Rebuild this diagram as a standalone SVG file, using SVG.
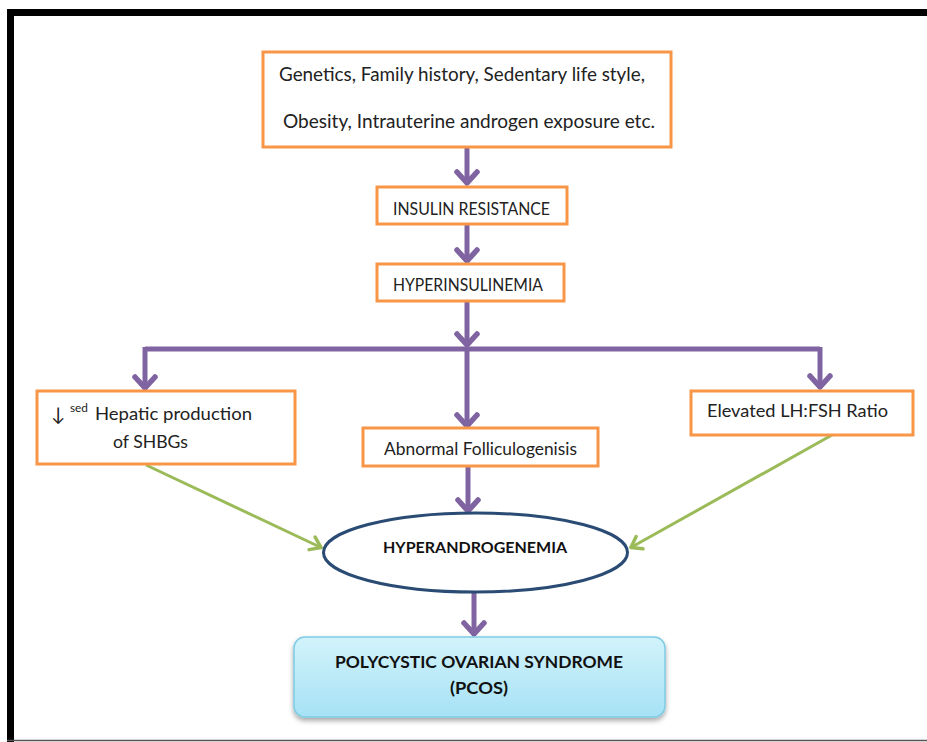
<svg xmlns="http://www.w3.org/2000/svg" width="927" height="742" viewBox="0 0 927 742">
<style>
.box{fill:#ffffff;stroke:#F79646;stroke-width:3}
.t{font-family:Lato,"Open Sans","Liberation Sans",sans-serif;fill:#222222}
.b{font-family:Lato,"Open Sans","Liberation Sans",sans-serif;font-weight:bold;fill:#111111}
.p{fill:none;stroke:#8064A2;stroke-width:5}
.g{fill:none;stroke:#9BBB59;stroke-width:3}
</style>
<defs>
<marker id="ap" viewBox="-16 -16 32 32" markerWidth="32" markerHeight="32" markerUnits="userSpaceOnUse" refX="0" refY="0" orient="auto">
<path d="M-12,-10 L-1,0 L-12,10" fill="none" stroke="#8064A2" stroke-width="5.5" stroke-linecap="round" stroke-linejoin="round"/>
</marker>
<marker id="ag" viewBox="-16 -16 32 32" markerWidth="32" markerHeight="32" markerUnits="userSpaceOnUse" refX="0" refY="0" orient="auto">
<path d="M-11,-7 L-1,0 L-11,7" fill="none" stroke="#9BBB59" stroke-width="3.5" stroke-linecap="round" stroke-linejoin="round"/>
</marker>
<linearGradient id="cy" x1="0" y1="0" x2="0" y2="1">
<stop offset="0" stop-color="#d2f3fb"/>
<stop offset="1" stop-color="#a6e2f5"/>
</linearGradient>
<filter id="sh" x="-10%" y="-20%" width="120%" height="150%">
<feDropShadow dx="0" dy="3" stdDeviation="2.5" flood-color="#000000" flood-opacity="0.35"/>
</filter>
</defs>

<g id="frame">
<path d="M10.5,742 V12.5 H927" fill="none" stroke="#000000" stroke-width="7"/>
<line x1="7" y1="740.5" x2="927" y2="740.5" stroke="#555555" stroke-width="1.5"/>
</g>

<g id="connectors">
<line class="p" x1="467" y1="147" x2="467" y2="184" marker-end="url(#ap)"/>
<line class="p" x1="467" y1="224" x2="467" y2="262" marker-end="url(#ap)"/>
<line class="p" x1="467" y1="301" x2="467" y2="346" marker-end="url(#ap)"/>
<line class="p" x1="145" y1="349" x2="820" y2="349"/>
<line class="p" x1="145" y1="347" x2="145" y2="389" marker-end="url(#ap)"/>
<line class="p" x1="820" y1="347" x2="820" y2="388" marker-end="url(#ap)"/>
<line class="p" x1="467" y1="349" x2="467" y2="427" marker-end="url(#ap)"/>
<line class="p" x1="468" y1="466" x2="468" y2="512" marker-end="url(#ap)"/>
<line class="p" x1="474" y1="592" x2="474" y2="635" marker-end="url(#ap)"/>
<line class="g" x1="146" y1="465" x2="322" y2="548" marker-end="url(#ag)"/>
<line class="g" x1="832" y1="435" x2="630" y2="548" marker-end="url(#ag)"/>
</g>

<g id="causes">
<rect class="box" x="263" y="52" width="408" height="95"/>
<text class="t" x="279" y="81" font-size="18.5" textLength="366" lengthAdjust="spacingAndGlyphs">Genetics, Family history, Sedentary life style,</text>
<text class="t" x="283" y="128" font-size="18.5" textLength="372" lengthAdjust="spacingAndGlyphs">Obesity, Intrauterine androgen exposure etc.</text>
</g>

<g id="insulin-resistance">
<rect class="box" x="377" y="187" width="190" height="37"/>
<text class="t" x="393" y="215" font-size="16.5" textLength="157" lengthAdjust="spacingAndGlyphs">INSULIN RESISTANCE</text>
</g>

<g id="hyperinsulinemia">
<rect class="box" x="377" y="264" width="187" height="37"/>
<text class="t" x="393" y="291" font-size="16.5" textLength="150" lengthAdjust="spacingAndGlyphs">HYPERINSULINEMIA</text>
</g>

<g id="shbg">
<rect class="box" x="37" y="391" width="258" height="73"/>
<text class="t" x="51" y="421" font-size="19">↓</text>
<text class="t" x="70" y="412" font-size="11" textLength="18" lengthAdjust="spacingAndGlyphs">sed</text>
<text class="t" x="95" y="420" font-size="17.5" textLength="157" lengthAdjust="spacingAndGlyphs">Hepatic production</text>
<text class="t" x="113" y="448" font-size="17.5" textLength="75" lengthAdjust="spacingAndGlyphs">of SHBGs</text>
</g>

<g id="folliculogenesis">
<rect class="box" x="363" y="428" width="235" height="38"/>
<text class="t" x="384" y="455" font-size="16.5" textLength="193" lengthAdjust="spacingAndGlyphs">Abnormal Folliculogenisis</text>
</g>

<g id="lhfsh">
<rect class="box" x="691" y="391" width="222" height="44"/>
<text class="t" x="707" y="417" font-size="17.5" textLength="181" lengthAdjust="spacingAndGlyphs">Elevated LH:FSH Ratio</text>
</g>

<g id="hyperandrogenemia">
<ellipse cx="475.5" cy="552.5" rx="152" ry="39.5" fill="#ffffff" stroke="#2A4B73" stroke-width="3"/>
<text class="b" x="383" y="553" font-size="15.5" textLength="184" lengthAdjust="spacingAndGlyphs">HYPERANDROGENEMIA</text>
</g>

<g id="pcos">
<rect x="294" y="637" width="371" height="80" rx="11" ry="11" fill="url(#cy)" stroke="#7FCBE3" stroke-width="1.5" filter="url(#sh)"/>
<text class="b" x="335" y="668" font-size="17.5" textLength="288" lengthAdjust="spacingAndGlyphs">POLYCYSTIC OVARIAN SYNDROME</text>
<text class="b" x="450" y="694" font-size="17.5" textLength="58" lengthAdjust="spacingAndGlyphs">(PCOS)</text>
</g>
</svg>
